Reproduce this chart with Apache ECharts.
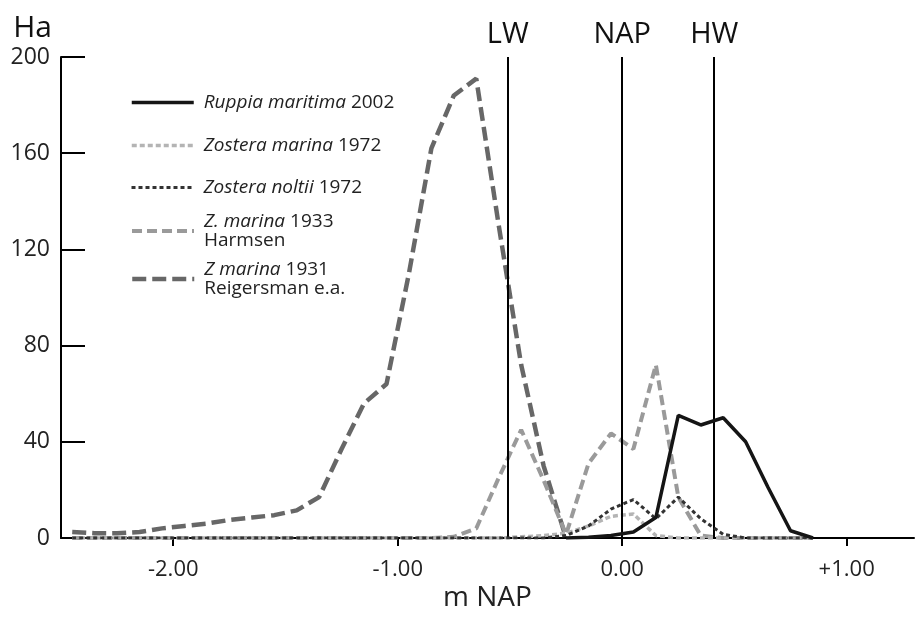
<!DOCTYPE html>
<html>
<head>
<meta charset="utf-8">
<script src="https://cdn.jsdelivr.net/npm/echarts@6/dist/echarts.min.js"></script>
<style>
html,body{margin:0;padding:0;background:#fff;}
#chart{width:916px;height:621px;}
</style>
</head>
<body>
<div id="chart"></div>
<script>
// depth (m NAP), class midpoints
const depth = [-2.45,-2.35,-2.25,-2.15,-2.05,-1.95,-1.85,-1.75,-1.65,-1.55,-1.45,-1.35,-1.25,-1.15,-1.05,-0.95,-0.85,-0.75,-0.65,-0.55,-0.45,-0.35,-0.25,-0.15,-0.05,0.05,0.15,0.25,0.35,0.45,0.55,0.65,0.75,0.85];
// area (Ha)
const ruppia2002 = [null,null,null,null,null,null,null,null,null,null,null,null,null,null,null,null,null,null,null,null,null,null,0,0.3,1,2.5,8.5,51,47,50,40,21,3,0];
const zmarina1972 = [0,0,0,0,0,0,0,0,0,0,0,0,0,0,0,0,0,0,0,0,0.5,1,2,5,9,10,1,0,0,0,0,0,0,0];
const znoltii1972 = [0,0,0,0,0,0,0,0,0,0,0,0,0,0,0,0,0,0,0,0,0,0,1,5,12,16,8,17,8,1.5,0,0,0,0];
const zmarina1933 = [0,0,0,0,0,0,0,0,0,0,0,0,0,0,0,0,0,0.5,4,25,45,24,1.5,31,43.5,37,72,17,1,0,0,0,0,0];
const zmarina1931 = [2.5,2,2,2.5,4,5,6,7.5,8.5,9.5,11.5,17,37,56,64,110,162,184,191,130,72,30,0,null,null,null,null,null,null,null,null,null,null,null];

const seriesNames = ['Ruppia maritima 2002','Zostera marina 1972','Zostera noltii 1972','Z. marina 1933 Harmsen','Z marina 1931 Reigersman e.a.'];
const legendLabels = ['{i|Ruppia maritima} 2002','{i|Zostera marina} 1972','{i|Zostera noltii} 1972','{i|Z. marina} 1933\nHarmsen','{i|Z marina} 1931\nReigersman e.a.'];
const xTicks = [-2,-1,0,1];
const tideNames = ['LW','NAP','HW'];
const tideLevels = [-0.51,0,0.41];

function pairs(arr){ return depth.map((d,i)=>[d,arr[i]]); }

const FONT = 'Open Sans';
const styles = [
  {color:'#151515',width:3.5,type:'solid'},
  {color:'#b4b4b4',width:3.5,type:[5,3]},
  {color:'#333333',width:3,type:[4,3]},
  {color:'#9a9a9a',width:4,type:[10,5]},
  {color:'#676767',width:4.5,type:[14,6]}
];
const chart = echarts.init(document.getElementById('chart'));
const legendTops = [93,136,178,212,260];
const legends = seriesNames.map((n,i)=>({
  data:[n], left:130, top:legendTops[i], orient:'vertical', padding:0,
  itemWidth:62, itemHeight:14, selectedMode:false,
  itemStyle:{opacity:0},
  lineStyle:Object.assign({cap:'butt'},styles[i]),
  formatter: ()=>legendLabels[i],
  textStyle:{fontFamily:FONT,fontSize:19,color:'#222',lineHeight:19,padding:[0,0,0,5],
    rich:{i:{fontStyle:'italic',fontFamily:FONT,fontSize:19,color:'#222',lineHeight:19}}}
}));

const base = {type:'line', symbol:'none', connectNulls:false, animation:false};
function mk(idx, data, z, extra){
  return Object.assign({}, base, {name:seriesNames[idx], data:pairs(data), z:z,
    itemStyle:{color:styles[idx].color},
    lineStyle:Object.assign({cap:'butt'},styles[idx])}, extra||{});
}
chart.setOption({
  animation:false,
  textStyle:{fontFamily:FONT},
  grid:{left:61,right:2,top:57,bottom:83,containLabel:false},
  legend: legends,
  xAxis:{
    type:'value', min:-2.5, max:1.3,
    name:'m NAP', nameLocation:'middle', nameGap:46, nameMoveOverlap:false,
    nameTextStyle:{fontFamily:FONT,fontSize:28,color:'#222'},
    axisLine:{show:true,onZero:false,lineStyle:{color:'#000',width:2}},
    axisTick:{show:true,inside:false,length:8,customValues:xTicks,lineStyle:{color:'#000',width:2}},
    axisLabel:{customValues:xTicks,margin:21,fontSize:22,color:'#222',fontFamily:FONT,
      formatter:v=> (v>0?'+':'')+v.toFixed(2)},
    splitLine:{show:false}
  },
  yAxis:{
    type:'value', min:0, max:200, interval:40,
    name:'Ha', nameLocation:'end', nameGap:14, nameMoveOverlap:false,
    nameTextStyle:{fontFamily:FONT,fontSize:30,color:'#111',align:'right',padding:[0,9,0,0]},
    axisLine:{show:true,onZero:false,lineStyle:{color:'#000',width:2}},
    axisTick:{show:true,inside:true,length:24,lineStyle:{color:'#000',width:2}},
    axisLabel:{margin:11,fontSize:23,color:'#222',fontFamily:FONT},
    splitLine:{show:false}
  },
  series:[
    mk(4, zmarina1931, 2),
    mk(3, zmarina1933, 3),
    mk(1, zmarina1972, 4),
    mk(2, znoltii1972, 5),
    mk(0, ruppia2002, 6, {
      markLine:{silent:true,symbol:['none','none'],animation:false,
        lineStyle:{color:'#000',width:2,type:'solid'},
        label:{show:true,position:'end',distance:8,formatter:p=>p.name,fontSize:29,color:'#111',fontFamily:FONT},
        data: tideLevels.map((x,i)=>({name:tideNames[i],xAxis:x}))
      }})
  ]
});
</script>
</body>
</html>
